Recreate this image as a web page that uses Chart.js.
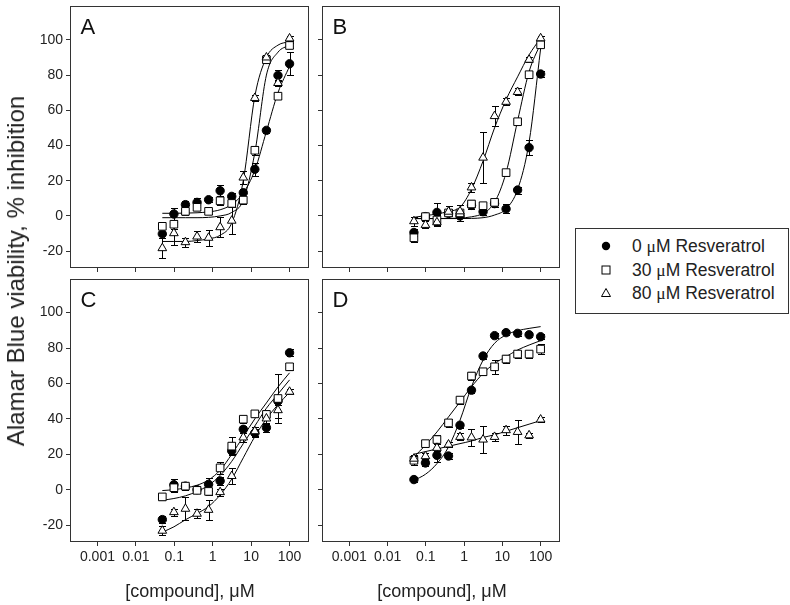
<!DOCTYPE html>
<html>
<head>
<meta charset="utf-8">
<script src="https://cdn.jsdelivr.net/npm/chart.js@4.4.1/dist/chart.umd.min.js"></script>
<style>
  body { margin: 0; background: #fff; width: 790px; height: 605px; position: relative; overflow: hidden;
         font-family: "Liberation Sans", Arial, sans-serif; color: #222; }
  canvas { position: absolute; }
  .xttl { position: absolute; top: 581px; width: 240px; text-align: center; font-size: 18px; line-height: 20px; white-space: nowrap; }
  #yttl { position: absolute; left: 16px; top: 271px; font-size: 24px; white-space: nowrap;
          transform: translate(-50%, -50%) rotate(-90deg); }
  #legend { position: absolute; left: 575px; top: 228px; width: 212px; height: 84px; border: 1px solid #333; }
  .row { position: absolute; left: 0; height: 22px; font-size: 17.5px; line-height: 22px; white-space: nowrap; }
  .row svg { position: absolute; left: 24px; top: 5px; }
  .row span.t { position: absolute; left: 56px; top: 0; }
  .mu { font-family: "Liberation Serif", serif; }
</style>
</head>
<body>
<canvas id="pA" width="314" height="276" style="left:0;top:0"></canvas>
<canvas id="pB" width="252" height="276" style="left:313px;top:0"></canvas>
<canvas id="pC" width="314" height="300" style="left:0;top:272px"></canvas>
<canvas id="pD" width="252" height="300" style="left:313px;top:272px"></canvas>

<div id="yttl">Alamar Blue viability, % inhibition</div>
<div class="xttl" style="left:70px">[compound], μM</div>
<div class="xttl" style="left:322px">[compound], μM</div>

<div id="legend">
  <div class="row" style="top:6px"><svg width="12" height="12"><circle cx="6" cy="6" r="4.2" fill="#000"/></svg><span class="t">0 <span class="mu">μ</span>M Resveratrol</span></div>
  <div class="row" style="top:30px"><svg width="12" height="12"><rect x="2" y="2" width="8" height="8" fill="#fff" stroke="#000"/></svg><span class="t">30 <span class="mu">μ</span>M Resveratrol</span></div>
  <div class="row" style="top:53px"><svg width="12" height="12"><polygon points="6,1.5 10.5,9.5 1.5,9.5" fill="#fff" stroke="#000"/></svg><span class="t">80 <span class="mu">μ</span>M Resveratrol</span></div>
</div>

<script>
// concentrations (µM), two-fold dilution series
const conc = [0.0488, 0.0977, 0.195, 0.391, 0.781, 1.56, 3.13, 6.25, 12.5, 25, 50, 100];
const xTicks = [0.001, 0.01, 0.1, 1, 10, 100];
const xTickLabels = ['0.001', '0.01', '0.1', '1', '10', '100'];
const yTicks = [-20, 0, 20, 40, 60, 80, 100];

// panel A
const aCirc    = [-10.2, 1.1, 6.4, 7.7, 9.2, 14.3, 11.1, 13.2, 26.5, 48.6, 79.8, 86.4];
const aCircErr = [2.5, 3.5, 2, 2.5, 1.5, 3, 2, 2, 3.8, 1.5, 3, 6.6];
const aCircFit = [1.5, 1.5, 1.6, 1.8, 2.3, 3.5, 6.5, 13, 26, 48, 70, 85];
const aSq      = [-5.9, -4.7, 2.6, 4.9, 2.6, 8.6, 7.1, 9.0, 37.3, 88.7, 68, 96.8];
const aSqErr   = [1.5, 2.5, 2, 1.5, 1.5, 2.5, 2, 2, 2.5, 2, 1.5, 1.5];
const aSqFit   = [-1, -1, -1, -1, -0.8, 0, 2, 9, 36, 80, 93, 97];
const aTri     = [-18.3, -9.8, -14.9, -11.7, -12.4, -6.4, -2.7, 21.8, 67, 90, 75.5, 100.8];
const aTriErr  = [5.6, 6.6, 2.5, 3, 4.5, 5.6, 7.5, 3.5, 1.5, 1.5, 1.5, 1.5];
const aTriFit  = [-14.5, -14.5, -14.5, -14, -13, -11, -4, 20, 68, 90, 97, 99];

// panel B
const bCirc    = [-9.4, -0.4, 2.0, 1.5, 0, 6, 2.4, 7, 4, 14.7, 38.8, 80.6];
const bCircErr = [2, 2, 5.5, 2.5, 3, 2, 2, 2, 2.5, 2, 4.4, 1.5];
const bCircFit = [-1.5, -1.5, -1.5, -1.5, -1.5, -1.4, -1, 0.5, 4, 15, 42, 95];
const bSq      = [-12.4, -0.4, -2.3, 1.7, 1.7, 6.8, 5.8, 7.7, 24.6, 53.5, 80.2, 97.2];
const bSqErr   = [2.5, 2, 3, 2, 4.5, 2, 1.5, 1.5, 2, 1.5, 2, 1.5];
const bSqFit   = [-1.5, -1.5, -1.5, -1.4, -1.2, -0.5, 1.5, 7.7, 24.6, 54, 82, 98];
const bTri     = [-3, -5.1, -3.6, 2.4, 2.6, 16.2, 33.1, 56.7, 64.8, 70.4, 88.7, 100.9];
const bTriErr  = [2.5, 2, 2, 3.5, 3.5, 2.5, 14.3, 5.8, 2, 2, 1.5, 1.5];
const bTriFit  = [-0.8, 0.2, 1.1, 2.6, 4.9, 15.2, 31.2, 50, 66, 79, 91.5, 101];

// panel C
const cCirc    = [-16.9, 2.8, 2, 0, 3, 4.9, 21.9, 34.1, 32, 35, 50, 77.3];
const cCircErr = [2, 3.3, 2, 2, 3.5, 2, 2, 2, 2, 2.5, 2, 2];
const cCircFit = [-6, -5, -3.5, -1, 2.5, 8, 16, 26, 36, 46, 54, 62];
const cSq      = [-4.1, 1.1, 2, -0.4, -1, 12.3, 24.6, 39.8, 42.8, 42.5, 51.5, 69.4];
const cSqErr   = [2, 2.5, 2, 1.5, 2, 3.5, 5, 2, 2, 2.5, 14, 2];
const cSqFit   = [-0.5, 0, 1, 2.5, 5.5, 11, 20, 30, 40, 49, 58, 66];
const cTri     = [-23.2, -12.7, -10.8, -13.6, -11.4, -1.4, 7.7, 29.5, 33, 40.2, 44.9, 55.3];
const cTriErr  = [2.5, 2, 6.6, 2.5, 5.7, 2, 4.5, 2.5, 2.5, 3, 4.7, 1.5];
const cTriFit  = [-24, -21, -17, -13.5, -9.5, -3, 6, 18, 30, 40, 48, 55];

// panel D
const dCirc    = [5.7, 15.1, 19.4, 19, 36.4, 56.2, 75.5, 87, 88.7, 88.3, 87.5, 86.4];
const dCircErr = [1.5, 2, 4, 1.5, 1.5, 1.5, 1.5, 1.5, 1.5, 1.5, 1.5, 1.5];
const dCircFit = [5.3, 8.7, 14.7, 24.1, 39.2, 58.1, 73.2, 82.7, 87.4, 89.8, 91.1, 92.1];
const dSq      = [16.6, 26, 28.3, 37.7, 50.6, 64.2, 66.6, 69.4, 73.8, 76.6, 76.6, 79.4];
const dSqErr   = [2.5, 2, 2.5, 2.4, 2, 2, 2, 3.8, 2, 2, 2, 3];
const dSqFit   = [18.5, 25.1, 32.6, 41.1, 49.6, 58.1, 65.7, 71.3, 75.1, 78.9, 81.7, 84.2];
const dTri     = [17.5, 18.9, 23.6, 25.5, 29.8, 29.5, 28.3, 29.8, 33.6, 32.6, 30.7, 39.6];
const dTriErr  = [2, 2, 2, 1.5, 2, 4.6, 7.5, 2.4, 2.5, 7, 1.5, 1.5];
const dTriFit  = [20, 21.5, 23, 24.5, 26, 27.5, 29.5, 31, 33, 35, 37, 39];

const FONT = '"Liberation Sans", Arial, sans-serif';
const INK = '#333';

const pts = vals => vals.map((v, i) => ({x: conc[i], y: v}));

// error bars under the markers, frame and panel letter on top
const panelDeco = {
  id: 'panelDeco',
  beforeDatasetsDraw(chart) {
    const {ctx, scales: {x, y}} = chart;
    ctx.save();
    ctx.strokeStyle = '#000';
    ctx.lineWidth = 1;
    chart.data.datasets.forEach(ds => {
      if (!ds.errs) return;
      ds.data.forEach((p, i) => {
        const e = ds.errs[i];
        const px = Math.round(x.getPixelForValue(p.x)) + 0.5;
        const t = Math.round(y.getPixelForValue(p.y + e)) + 0.5;
        const b = Math.round(y.getPixelForValue(p.y - e)) + 0.5;
        ctx.beginPath();
        ctx.moveTo(px, t); ctx.lineTo(px, b);
        ctx.moveTo(px - 3.5, t); ctx.lineTo(px + 3.5, t);
        ctx.moveTo(px - 3.5, b); ctx.lineTo(px + 3.5, b);
        ctx.stroke();
      });
    });
    ctx.restore();
  },
  afterDraw(chart) {
    const {ctx, chartArea: a} = chart;
    ctx.save();
    ctx.strokeStyle = INK;
    ctx.lineWidth = 1;
    ctx.strokeRect(Math.round(a.left) - 0.5, Math.round(a.top) + 0.5,
                   Math.round(a.right - a.left) + 1, Math.round(a.bottom - a.top));
    ctx.fillStyle = '#111';
    ctx.font = '22px ' + FONT;
    ctx.fillText(chart.options.plugins.panelDeco.letter, a.left + 9.5, a.top + 28);
    ctx.restore();
  }
};

function makePanel(id, letter, circ, sq, tri, opt) {
  const mark = (vals, errs, style, r, bg) => ({
    data: pts(vals), errs: errs, showLine: false,
    pointStyle: style, pointRadius: r, pointBackgroundColor: bg,
    pointBorderColor: '#000', pointBorderWidth: 1
  });
  const fit = vals => ({
    data: pts(vals), showLine: true, pointRadius: 0,
    borderColor: '#000', borderWidth: 1, cubicInterpolationMode: 'monotone'
  });
  new Chart(document.getElementById(id), {
    type: 'scatter',
    data: {
      datasets: [
        mark(tri[0], tri[1], 'triangle', 5, '#fff'),
        mark(sq[0], sq[1], 'rect', 5.4, '#fff'),
        mark(circ[0], circ[1], 'circle', 4.2, '#000'),
        fit(tri[2]), fit(sq[2]), fit(circ[2])
      ]
    },
    options: {
      responsive: false,
      animation: false,
      devicePixelRatio: 1,
      layout: {padding: {top: opt.top, right: 4, left: 0, bottom: 0}},
      plugins: {legend: {display: false}, tooltip: {enabled: false}, panelDeco: {letter: letter}},
      scales: {
        x: {
          type: 'logarithmic', min: 0.000205, max: 295,
          afterBuildTicks: s => { s.ticks = xTicks.map(v => ({value: v})); },
          afterFit: s => { s.height = opt.xh; s.paddingLeft = 0; s.paddingRight = 0; },
          ticks: {
            callback: v => opt.showX ? xTickLabels[xTicks.indexOf(v)] : '',
            autoSkip: false, maxRotation: 0, padding: 3,
            color: '#222', font: {family: FONT, size: 14}
          },
          grid: {drawOnChartArea: false, tickLength: 5, color: INK},
          border: {display: false}
        },
        y: {
          min: -29, max: 119,
          afterBuildTicks: s => { s.ticks = yTicks.map(v => ({value: v})); },
          afterFit: s => { s.width = opt.yw; s.paddingTop = 0; s.paddingBottom = 0; },
          ticks: {
            callback: v => opt.showY ? String(v) : '',
            padding: 3, color: '#222', font: {family: FONT, size: 14}
          },
          grid: {drawOnChartArea: false, tickLength: 5, color: INK},
          border: {display: false}
        }
      }
    },
    plugins: [panelDeco]
  });
}

makePanel('pA', 'A', [aCirc, aCircErr, aCircFit], [aSq, aSqErr, aSqFit], [aTri, aTriErr, aTriFit],
          {top: 4, xh: 9, yw: 71, showX: false, showY: true});
makePanel('pB', 'B', [bCirc, bCircErr, bCircFit], [bSq, bSqErr, bSqFit], [bTri, bTriErr, bTriFit],
          {top: 4, xh: 9, yw: 10, showX: false, showY: false});
makePanel('pC', 'C', [cCirc, cCircErr, cCircFit], [cSq, cSqErr, cSqFit], [cTri, cTriErr, cTriFit],
          {top: 7, xh: 31, yw: 71, showX: true, showY: true});
makePanel('pD', 'D', [dCirc, dCircErr, dCircFit], [dSq, dSqErr, dSqFit], [dTri, dTriErr, dTriFit],
          {top: 7, xh: 31, yw: 10, showX: true, showY: false});
</script>
</body>
</html>
